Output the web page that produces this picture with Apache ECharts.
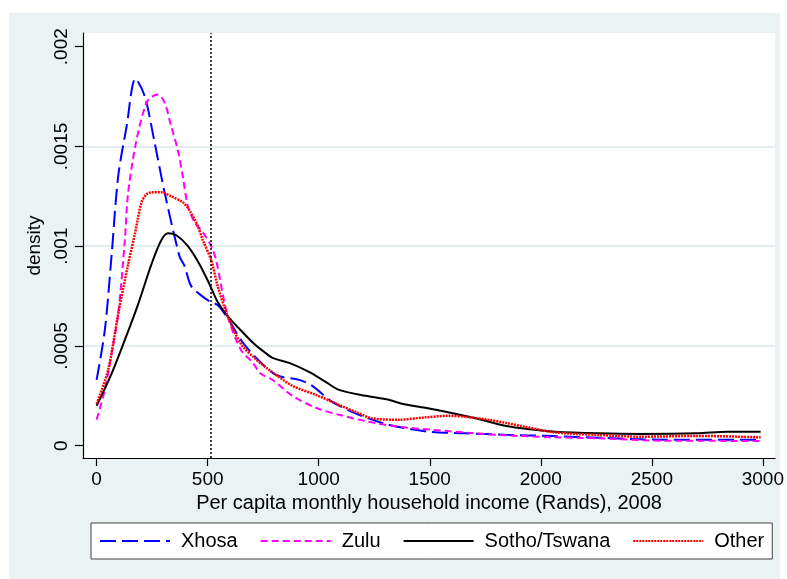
<!DOCTYPE html>
<html>
<head>
<meta charset="utf-8">
<script src="https://cdn.jsdelivr.net/npm/echarts@6/dist/echarts.min.js"></script>
<style>html,body{margin:0;padding:0;background:#fff}#c{width:787px;height:579px}</style>
</head>
<body>
<div id="c"></div>
<script>
const seriesNames = ['Xhosa', 'Zulu', 'Sotho/Tswana', 'Other'];

const xhosaX = [0, 37, 67, 97, 135, 175, 217, 261, 306, 373, 396, 426, 486, 516, 545, 590, 650, 710, 807, 912, 971, 1061, 1181, 1315, 1495, 1659, 1839, 2060, 2257, 2556, 2990];
const xhosaY = [0.00033, 0.00058, 0.00095, 0.00135, 0.0016, 0.00184, 0.00175, 0.00152, 0.00127, 0.00095, 0.0009, 0.0008, 0.00074, 0.00072, 0.000705, 0.00064, 0.00053, 0.00045, 0.000355, 0.00033, 0.0003, 0.00022, 0.000155, 0.000105, 0.00007, 0.000062, 0.000055, 0.000048, 0.00004, 0.00003, 0.00003];

const zuluX = [0, 37, 67, 97, 127, 142, 179, 224, 250, 276, 306, 336, 366, 388, 411, 441, 478, 516, 538, 590, 650, 700, 740, 792, 882, 987, 1091, 1226, 1360, 1509, 1704, 1839, 2060, 2257, 2556, 2990];
const zuluY = [0.00013, 0.00028, 0.00046, 0.00066, 0.00103, 0.00127, 0.00153, 0.00172, 0.00175, 0.00176, 0.00172, 0.0016, 0.00148, 0.00135, 0.0012, 0.00112, 0.00107, 0.001, 0.00093, 0.00065, 0.00048, 0.00042, 0.00036, 0.00033, 0.00025, 0.00019, 0.000155, 0.00012, 0.000095, 0.00008, 0.000062, 0.000052, 0.000042, 0.000037, 0.000025, 0.000024];

const sothoX = [0, 67, 127, 187, 247, 291, 321, 359, 411, 463, 508, 545, 590, 665, 710, 755, 792, 867, 956, 1031, 1091, 1211, 1315, 1375, 1480, 1614, 1734, 1839, 1950, 2063, 2257, 2451, 2704, 2840, 2990];
const sothoY = [0.0002, 0.00036, 0.00053, 0.00071, 0.00091, 0.00103, 0.001065, 0.001055, 0.001, 0.00091, 0.00081, 0.00072, 0.00065, 0.00056, 0.00051, 0.00047, 0.00044, 0.000415, 0.00037, 0.00032, 0.00028, 0.00025, 0.00023, 0.00021, 0.00019, 0.00016, 0.00013, 0.0001, 0.000082, 0.00007, 0.000062, 0.000059, 0.000062, 0.00007, 0.00007];

const otherX = [0, 52, 97, 142, 172, 202, 224, 247, 291, 336, 388, 418, 456, 478, 516, 545, 590, 650, 710, 777, 882, 987, 1091, 1181, 1240, 1360, 1480, 1584, 1659, 1764, 1839, 1928, 2063, 2257, 2451, 2704, 2990];
const otherY = [0.00021, 0.00038, 0.00066, 0.00091, 0.00106, 0.00122, 0.00126, 0.00127, 0.00127, 0.00125, 0.00122, 0.00118, 0.0011, 0.00103, 0.00093, 0.0008, 0.00065, 0.00051, 0.00044, 0.00038, 0.0003, 0.000255, 0.000205, 0.000162, 0.000137, 0.00013, 0.000142, 0.00015, 0.000145, 0.00013, 0.000115, 0.000095, 0.000067, 0.000054, 0.000045, 0.000049, 0.000042];

const xTicks = [0, 500, 1000, 1500, 2000, 2500, 3000];
const xTickLabels = ['0', '500', '1000', '1500', '2000', '2500', '3000'];
const yTicks = [0, 0.0005, 0.001, 0.0015, 0.002];
const yTickLabels = ['0', '.0005', '.001', '.0015', '.002'];
const cutoff = 512;

const pairs = (xs, ys) => xs.map((x, i) => [x, ys[i]]);
const labelFor = (ticks, labels) => v => { const i = ticks.findIndex(t => Math.abs(t - v) < 1e-9 * Math.max(1, Math.abs(t))); return i >= 0 ? labels[i] : ''; };
const FONT = 'Arial, "Liberation Sans", sans-serif';

const chart = echarts.init(document.getElementById('c'), null, {renderer: 'canvas'});
chart.setOption({
  animation: false,
  backgroundColor: '#ffffff',
  graphic: [{
    type: 'rect', z: -10, silent: true,
    shape: {x: 9, y: 13, width: 771, height: 566},
    style: {fill: '#eaf2f3'}
  }],
  grid: {
    left: 83, top: 33, right: 9, bottom: 121,
    show: true, backgroundColor: '#ffffff', borderWidth: 0
  },
  legend: {
    data: seriesNames,
    left: 91, top: 523,
    padding: [8, 8, 8, 8],
    itemGap: 22,
    itemWidth: 70, itemHeight: 14,
    backgroundColor: '#ffffff',
    borderColor: '#404040', borderWidth: 1, borderRadius: 0,
    itemStyle: {opacity: 0},
    textStyle: {fontFamily: FONT, fontSize: 20, color: '#000', padding: [0, 0, 0, 6]}
  },
  xAxis: {
    type: 'value', min: -61.4, max: 3055,
    name: 'Per capita monthly household income (Rands), 2008',
    nameLocation: 'middle', nameGap: 34,
    nameTextStyle: {fontFamily: FONT, fontSize: 20, color: '#000'},
    axisLine: {show: true, onZero: false, lineStyle: {color: '#000', width: 1.2}},
    axisTick: {show: true, length: 8, customValues: xTicks, lineStyle: {color: '#000', width: 1.2}},
    axisLabel: {customValues: xTicks, margin: 12, fontFamily: FONT, fontSize: 19, color: '#000', formatter: labelFor(xTicks, xTickLabels)},
    splitLine: {show: false}
  },
  yAxis: {
    type: 'value', min: -0.0000617, max: 0.0020687,
    name: 'density',
    nameLocation: 'middle', nameGap: 36, nameRotate: 90,
    nameTextStyle: {fontFamily: FONT, fontSize: 19, color: '#000'},
    axisLine: {show: true, onZero: false, lineStyle: {color: '#000', width: 1.2}},
    axisTick: {show: true, length: 8, customValues: yTicks, lineStyle: {color: '#000', width: 1.2}},
    axisLabel: {
      customValues: yTicks, rotate: 90, margin: 12,
      fontFamily: FONT, fontSize: 19, color: '#000',
      formatter: labelFor(yTicks, yTickLabels)
    },
    splitLine: {show: true, showMinLine: false, showMaxLine: false, lineStyle: {color: '#e3ecee', width: 2}}
  },
  series: [
    {
      name: 'Xhosa', type: 'line', data: pairs(xhosaX, xhosaY), smooth: 0.3, symbol: 'none', z: 3,
      lineStyle: {color: '#0000ff', width: 2, type: [16, 6]}, itemStyle: {color: '#0000ff'}
    },
    {
      name: 'Zulu', type: 'line', data: pairs(zuluX, zuluY), smooth: 0.3, symbol: 'none', z: 3,
      lineStyle: {color: '#ff00ff', width: 2, type: [7, 4]}, itemStyle: {color: '#ff00ff'}
    },
    {
      name: 'Sotho/Tswana', type: 'line', data: pairs(sothoX, sothoY), smooth: 0.3, symbol: 'none', z: 3,
      lineStyle: {color: '#000000', width: 2, type: 'solid'}, itemStyle: {color: '#000000'},
      markLine: {
        silent: true, symbol: 'none', label: {show: false},
        lineStyle: {color: '#000', width: 1.5, type: [2, 2]},
        data: [{xAxis: cutoff}]
      }
    },
    {
      name: 'Other', type: 'line', data: pairs(otherX, otherY), smooth: 0.3, symbol: 'none', z: 3,
      lineStyle: {color: '#ff0000', width: 2.5, type: [2, 1]}, itemStyle: {color: '#ff0000'}
    }
  ]
});
</script>
</body>
</html>
